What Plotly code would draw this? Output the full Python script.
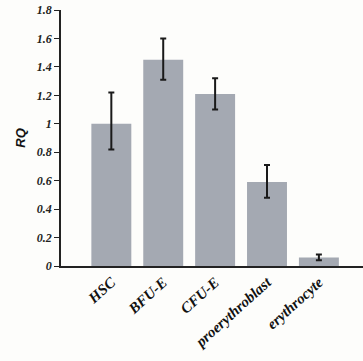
import plotly.graph_objects as go

categories = ["HSC", "BFU-E", "CFU-E", "proerythroblast", "erythrocyte"]
rq_values = [1.00, 1.45, 1.21, 0.59, 0.06]
err_plus = [0.22, 0.15, 0.11, 0.12, 0.02]
err_minus = [0.18, 0.14, 0.11, 0.11, 0.02]
y_ticks = [0, 0.2, 0.4, 0.6, 0.8, 1, 1.2, 1.4, 1.6, 1.8]
y_tick_labels = ["0", "0.2", "0.4", "0.6", "0.8", "1", "1.2", "1.4", "1.6", "1.8"]

serif_bi = dict(family="Liberation Serif", weight="bold", style="italic")

fig = go.Figure(go.Bar(
    x=categories, y=rq_values, width=0.77,
    marker=dict(color="#a4a9b2", line=dict(width=0)),
    error_y=dict(type="data", symmetric=False, array=err_plus, arrayminus=err_minus,
                 color="#1a1a1a", thickness=2, width=3),
))

fig.update_layout(
    width=363, height=361,
    margin=dict(l=61, r=0, t=10, b=95),
    paper_bgcolor="#fdfdfb", plot_bgcolor="#fdfdfb",
    showlegend=False,
    xaxis=dict(
        range=[-0.97, 4.85], showline=True, linecolor="#222", linewidth=1.5,
        ticks="", tickangle=-42,
        tickfont=dict(size=15, color="#111", **serif_bi),
        showgrid=False,
    ),
    yaxis=dict(
        range=[0, 1.8], tickvals=y_ticks, ticktext=y_tick_labels,
        showline=True, linecolor="#222", linewidth=1.5,
        ticks="outside", ticklen=5, tickcolor="#222", tickwidth=1,
        tickfont=dict(size=12, color="#222", **serif_bi),
        showgrid=False, zeroline=False,
        title=dict(text="RQ", standoff=8,
                   font=dict(family="Liberation Sans", size=13, color="#111", weight="bold", style="italic")),
    ),
)

fig.write_html("out.html", config={"displayModeBar": False},
               post_script="document.body.style.margin='0';document.body.style.background='#fdfdfb';")
